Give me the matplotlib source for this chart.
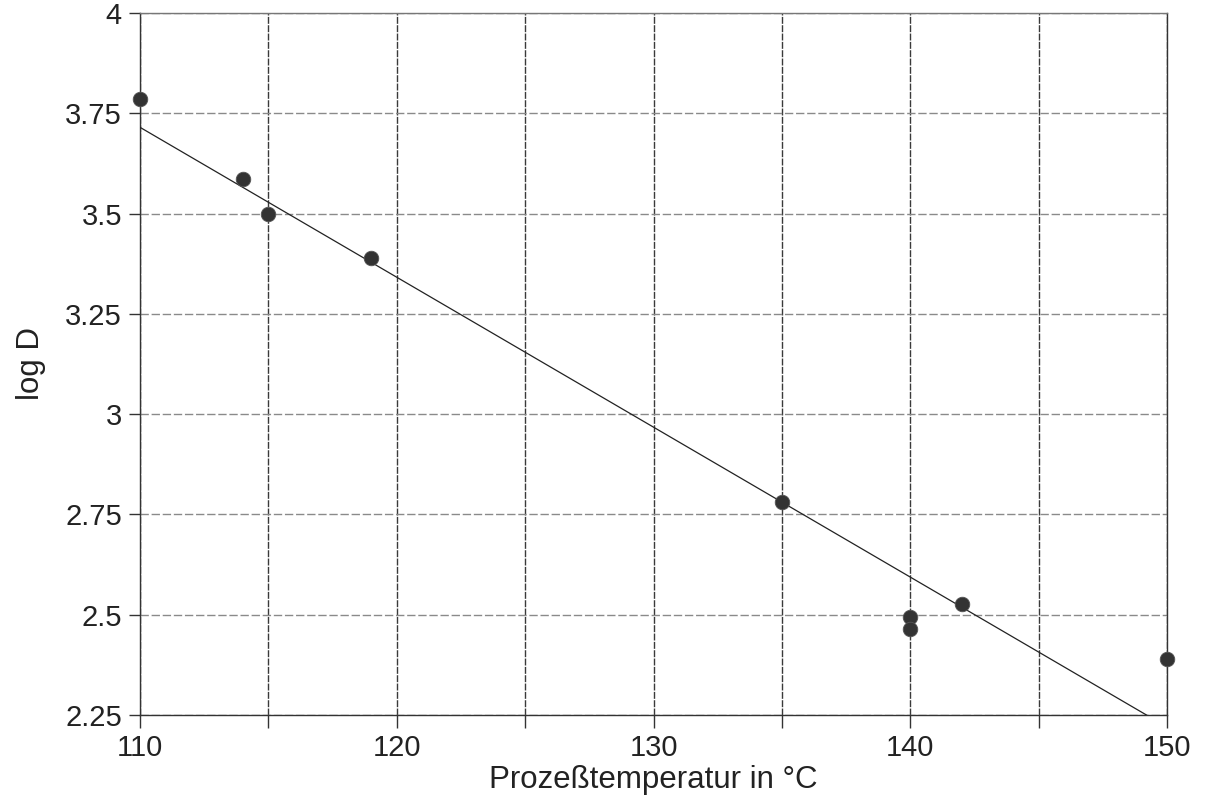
"""log D vs. process temperature with linear fit."""

import matplotlib
matplotlib.use("Agg")
import matplotlib.pyplot as plt
from matplotlib.ticker import MultipleLocator, FuncFormatter

plt.rcParams["font.family"] = ["Liberation Sans", "DejaVu Sans"]

# ---------------------------------------------------------------------------
# Data
# ---------------------------------------------------------------------------
TEMP = [110, 114, 115, 119, 135, 140, 140, 142, 150]
LOG_D = [3.785, 3.585, 3.50, 3.39, 2.78, 2.495, 2.465, 2.527, 2.39]

# regression line endpoints
FIT_X = [110, 150]
FIT_Y = [3.715, 2.22]

X_LIM = (110, 150)
Y_LIM = (2.25, 4.0)

fig = plt.figure(figsize=(12.05, 8.02), dpi=100)
ax = fig.add_axes([0.1162, 0.1085, 0.8523, 0.8753])

ax.plot(FIT_X, FIT_Y, color="#222222", linewidth=0.9, zorder=3)
ax.scatter(TEMP, LOG_D, s=110, color="#333333", edgecolors="#555555",
           linewidths=0.6, zorder=4, clip_on=False)

ax.set_xlim(*X_LIM)
ax.set_ylim(*Y_LIM)

ax.xaxis.set_major_locator(MultipleLocator(10))
ax.xaxis.set_minor_locator(MultipleLocator(5))
ax.yaxis.set_major_locator(MultipleLocator(0.25))
ax.yaxis.set_major_formatter(FuncFormatter(lambda v, _: f"{v:g}"))

# vertical grid: darker, horizontal: lighter gray (scanned look)
ax.grid(True, axis="x", which="both", color="#3a3a3a", linewidth=1.0,
        linestyle=(0, (5, 1)))
ax.grid(True, axis="y", which="major", color="#8a8a8a", linewidth=1.0,
        linestyle=(0, (6, 2)))
ax.set_axisbelow(True)

for side in ["top", "right", "left", "bottom"]:
    ax.spines[side].set_color("#333333")
    ax.spines[side].set_linewidth(1.0)
ax.spines["top"].set_color("#777777")
ax.spines["right"].set_linestyle((0, (5, 1)))

ax.tick_params(axis="both", which="both", direction="out", color="#333333",
               labelsize=21, labelcolor="#222222")
ax.tick_params(axis="x", which="both", length=9, width=1.0, pad=5)
ax.tick_params(axis="y", which="major", length=8, width=1.0, pad=5)

ax.set_xlabel("Prozeßtemperatur in °C", fontsize=22.5, color="#222222", labelpad=2)
ax.set_ylabel("log D", fontsize=22.5, color="#222222", labelpad=14)

fig.savefig("out.png", dpi=100)
